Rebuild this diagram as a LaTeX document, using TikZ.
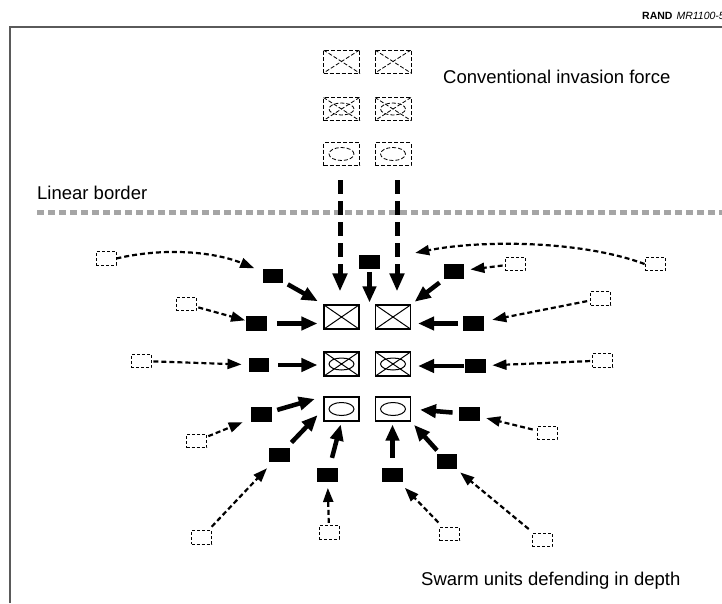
\documentclass[tikz,border=0pt]{standalone}
\usepackage{fontspec}
\setmainfont{Liberation Sans}
\usetikzlibrary{arrows.meta,calc}

\definecolor{framegray}{RGB}{90,90,90}
\definecolor{bordergray}{RGB}{165,165,165}

\tikzset{
  txt/.style={font=\fontsize{18.5}{22}\selectfont, anchor=base west, inner sep=0pt},
  enemy/.style={draw, line width=1.1pt, minimum width=35pt, minimum height=24pt, inner sep=0pt},
  enemyfar/.style={draw, line width=0.9pt, dash pattern=on 4pt off 2pt, minimum width=36pt, minimum height=23pt, inner sep=0pt},
  farsym/.style={dash pattern=on 4pt off 2pt, line width=0.8pt},
  symx/.style={path picture={\draw[line width=1pt,#1]
      (path picture bounding box.north west) -- (path picture bounding box.south east)
      (path picture bounding box.north east) -- (path picture bounding box.south west);}},
  symx/.default={},
  symxo/.style={path picture={\draw[line width=1pt,#1]
      (path picture bounding box.north west) -- (path picture bounding box.south east)
      (path picture bounding box.north east) -- (path picture bounding box.south west);
      \draw[line width=1pt,#1] (path picture bounding box.center) ellipse [x radius=12.5pt, y radius=6pt];}},
  symxo/.default={},
  symo/.style={path picture={\draw[line width=1pt,#1] (path picture bounding box.center) ellipse [x radius=12.5pt, y radius=6.5pt];}},
  symo/.default={},
  reserve/.style={draw, line width=0.8pt, dash pattern=on 3pt off 2pt, minimum width=20pt, minimum height=13.5pt, inner sep=0pt},
  swarm/.style={fill=black, minimum width=20.5pt, minimum height=14.5pt, inner sep=0pt},
  solidarrow/.style={line width=4.5pt, -{Triangle[length=16pt,width=13pt]}},
  movearrow/.style={line width=2.2pt, dash pattern=on 5pt off 3pt, -{Triangle[length=14pt,width=10pt]}},
  advance/.style={line width=5pt, dash pattern=on 14pt off 7pt, -{Triangle[length=18pt,width=14pt]}},
}

\begin{document}
\begin{tikzpicture}[x=1pt,y=-1pt]
  \useasboundingbox (0,0) rectangle (722,603);
  \fill[white] (0,0) rectangle (722,603);

  % frame and header
  \draw[framegray, line width=1.6pt] (10,603) -- (10,27) -- (722,27);
  \node[anchor=base east, inner sep=0pt, font=\fontsize{10.5}{12}\selectfont] (hdr) at (725,19)
    {{\bfseries RAND}\hspace{4pt}{\itshape MR1100-5}};

  % linear border
  \draw[bordergray, line width=5pt, dash pattern=on 7pt off 4pt] (37,212.5) -- (722,212.5);
  \node[txt] (lb) at (37,199) {Linear border};

  % conventional force, still beyond the border
  \node[enemyfar, symx=farsym]  (e1a) at (341.5,61.5) {};
  \node[enemyfar, symx=farsym]  (e1b) at (393,61.5) {};
  \node[enemyfar, symxo=farsym] (e2a) at (341.5,109) {};
  \node[enemyfar, symxo=farsym] (e2b) at (393,109) {};
  \node[enemyfar, symo=farsym]  (e3a) at (341.5,154) {};
  \node[enemyfar, symo=farsym]  (e3b) at (393,154) {};
  \node[txt] (cif) at (443,83) {Conventional invasion force};

  % conventional force after crossing
  \node[enemy, symx]  (x1a) at (341.5,317) {};
  \node[enemy, symx]  (x1b) at (393,317) {};
  \node[enemy, symxo] (x2a) at (341.5,364) {};
  \node[enemy, symxo] (x2b) at (393,364) {};
  \node[enemy, symo]  (x3a) at (341.5,409) {};
  \node[enemy, symo]  (x3b) at (393,409) {};

  % swarm units
  \node[swarm] (bCen) at (369.5,262) {};
  \node[swarm] (bA) at (273,276) {};
  \node[swarm] (bB) at (256.5,323.5) {};
  \node[swarm] (bC) at (259,365) {};
  \node[swarm] (bD) at (261.5,414.5) {};
  \node[swarm] (bE) at (279.5,455) {};
  \node[swarm] (bF) at (327.5,475) {};
  \node[swarm] (bG) at (392.5,475) {};
  \node[swarm] (bH) at (447,461.5) {};
  \node[swarm] (bI) at (469.5,414) {};
  \node[swarm] (bK) at (454,271.5) {};
  \node[swarm] (bL) at (473.5,323.5) {};
  \node[swarm] (bM) at (475.5,366) {};

  % dispersed positions
  \node[reserve] (dA) at (106,258.5) {};
  \node[reserve] (dB) at (186,304) {};
  \node[reserve] (dC) at (141,361) {};
  \node[reserve] (dD) at (196.5,441) {};
  \node[reserve] (dE) at (201.5,537.5) {};
  \node[reserve] (dF) at (329,532.5) {};
  \node[reserve] (dG) at (449.5,534) {};
  \node[reserve] (dH) at (542,540) {};
  \node[reserve] (dI) at (547,433) {};
  \node[reserve] (dJ) at (655,264) {};
  \node[reserve] (dK) at (515,264) {};
  \node[reserve] (dL) at (600.5,298.5) {};
  \node[reserve] (dM) at (602.5,360.5) {};

  \node[txt] (swt) at (421,585) {Swarm units defending in depth};

  % advance across the border
  \draw[advance, shorten <=14.5pt, shorten >=13pt] ([xshift=-1.5pt]e3a.south) -- ([xshift=-1.5pt]x1a.north);
  \draw[advance, shorten <=14.5pt, shorten >=13pt] ([xshift=4pt]e3b.south) -- ([xshift=4pt]x1b.north);

  % swarm attacks
  \draw[solidarrow, shorten <=2.5pt, shorten >=2pt] (bCen) -- (bCen |- x1a.north);
  \draw[solidarrow, shorten <=5pt, shorten >=6.5pt] (bA) -- (x1a.north west);
  \draw[solidarrow, shorten <=10pt, shorten >=6pt] (bB) -- (bB -| x1a.west);
  \draw[solidarrow, shorten <=9pt, shorten >=6pt] (bC) -- (bC -| x2a.west);
  \draw[solidarrow, shorten <=5.5pt, shorten >=9pt] (bD) -- (x3a.north west);
  \draw[solidarrow, shorten <=7pt, shorten >=8.5pt] (bE) -- (x3a.west);
  \draw[solidarrow, shorten <=10pt, shorten >=3pt] (bF) -- (x3a.south);
  \draw[solidarrow, shorten <=10pt, shorten >=3pt] (bG) -- (bG |- x3b.south);
  \draw[solidarrow, shorten <=5pt, shorten >=4.5pt] (bH) -- (x3b.south east);
  \draw[solidarrow, shorten <=6.5pt, shorten >=9pt] (bI) -- (x3b.east);
  \draw[solidarrow, shorten <=1pt, shorten >=7pt] (bM) -- (bM -| x2b.east);
  \draw[solidarrow, shorten <=5pt, shorten >=7pt] (bL) -- (bL -| x1b.east);
  \draw[solidarrow, shorten <=6pt, shorten >=4.5pt] (bK) -- (x1b.north east);

  % convergence from dispersed positions
  \draw[movearrow, shorten >=9pt] (dA.east) .. controls (165,247) and (215,252) .. (bA);
  \draw[movearrow, shorten <=2pt, shorten >=1pt] (dB) -- (bB);
  \draw[movearrow, shorten <=2pt, shorten >=7pt] (dC) -- (bC);
  \draw[movearrow, shorten <=1.5pt, shorten >=9pt] (dD) -- (bD);
  \draw[movearrow, shorten <=5pt, shorten >=8pt] (dE) -- (bE);
  \draw[movearrow, shorten <=2.5pt, shorten >=5.5pt] (dF) -- (bF);
  \draw[movearrow, shorten <=6pt, shorten >=7.5pt] (dG) -- (bG);
  \draw[movearrow, shorten <=6pt, shorten >=5.5pt] (dH) -- (bH);
  \draw[movearrow, shorten <=4pt, shorten >=6.5pt] (dI) -- (bI);
  \draw[movearrow, shorten <=2pt, shorten >=6pt] (dK) -- (bK);
  \draw[movearrow, shorten <=3pt, shorten >=8.5pt] (dL) -- (bL);
  \draw[movearrow, shorten <=2pt, shorten >=6.5pt] (dM) -- (bM);
  \draw[movearrow, shorten >=36pt] (dJ.west) .. controls (580,240) and (480,240) .. (bCen);
\end{tikzpicture}
\end{document}
